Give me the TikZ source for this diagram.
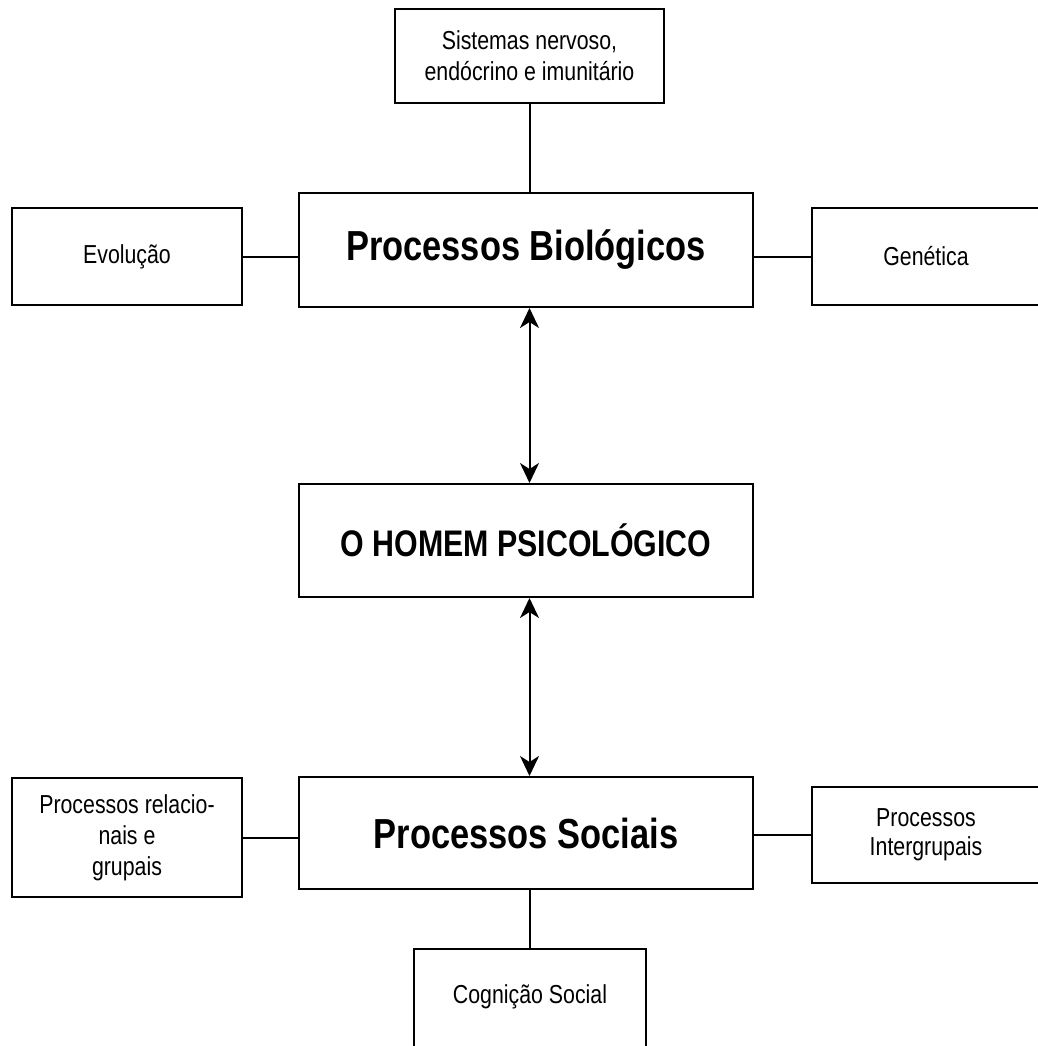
\documentclass[tikz,border=0pt]{standalone}
\usepackage{fontspec}
\setmainfont{Liberation Sans}[FakeStretch=0.82]
\usetikzlibrary{arrows.meta}
\tikzset{
  box/.style={draw, line width=2pt, rectangle, inner sep=0pt, align=center},
  small/.style={font=\fontsize{26}{31}\selectfont},
  big/.style={font=\bfseries\fontsize{42}{48}\selectfont},
  link/.style={line width=2pt},
  dbl/.style={line width=2pt, {Stealth[length=20pt,width=19pt,inset=6pt]}-{Stealth[length=20pt,width=19pt,inset=6pt]}}
}
\begin{document}
\begin{tikzpicture}[x=1pt,y=-1pt]
\useasboundingbox (0,0) rectangle (1037,1046);
\node[box, small, minimum width=269pt, minimum height=94pt] (top) at (529.5,56) {Sistemas nervoso,\\endócrino e imunitário};
\node[box, big, minimum width=454pt, minimum height=114pt] (bio) at (526,250) {Processos Biológicos};
\node[box, small, minimum width=230pt, minimum height=97pt] (evol) at (127,256.5) {Evolução};
\node[box, small, minimum width=228pt, minimum height=97pt] (gen) at (926,256.5) {Genética};
\node[box, big, font=\bfseries\fontsize{37}{43}\selectfont, minimum width=454pt, minimum height=113pt] (homem) at (526,540.5) {O HOMEM PSICOLÓGICO};
\node[box, big, minimum width=454pt, minimum height=112pt] (soc) at (526,833) {Processos Sociais};
\node[box, small, minimum width=230pt, minimum height=119pt] (rel) at (127,837.5) {Processos relacio-\\nais e\\grupais};
\node[box, small, font=\fontsize{26}{29}\selectfont, minimum width=228pt, minimum height=96pt] (inter) at (926,835) {\raisebox{3pt}{\begin{tabular}{@{}c@{}}Processos\\Intergrupais\end{tabular}}};
\node[box, small, minimum width=232pt, minimum height=111pt] (cog) at (530,1004.5) {\raisebox{20pt}{Cognição Social}};
\draw[link] (top.south) -- (top.south |- bio.north);
\draw[link] (evol.east) -- (evol.east -| bio.west);
\draw[link] (gen.west) -- (gen.west -| bio.east);
\draw[link] (rel.east) -- (rel.east -| soc.west);
\draw[link] (inter.west) -- (inter.west -| soc.east);
\draw[link] (cog.north) -- (cog.north |- soc.south);
\draw[dbl] (bio.south -| top.south) -- (homem.north -| top.south);
\draw[dbl] (homem.south -| top.south) -- (soc.north -| top.south);
\end{tikzpicture}
\end{document}
